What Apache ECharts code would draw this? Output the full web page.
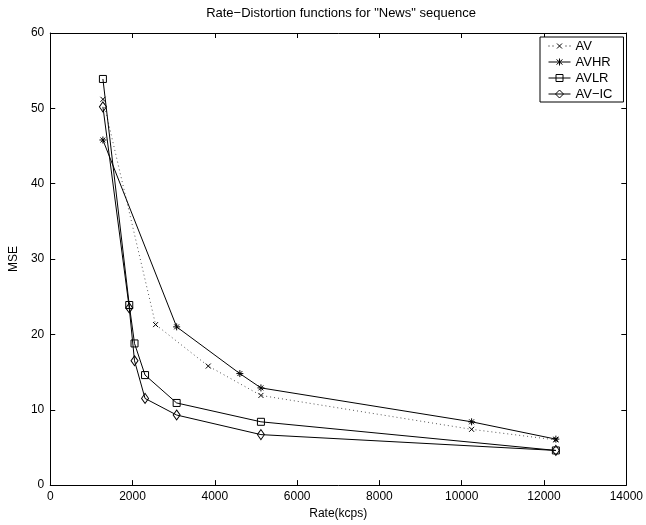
<!DOCTYPE html>
<html>
<head>
<meta charset="utf-8">
<script src="https://cdn.jsdelivr.net/npm/echarts@6/dist/echarts.min.js"></script>
<style>
  html, body { margin: 0; padding: 0; background: #fff; }
  #chart { width: 646px; height: 525px; }
</style>
</head>
<body>
<div id="chart"></div>
<script>
// rate values (kcps) and MSE
const avRate = [1280, 2560, 3840, 5120, 10240, 12288];
const avMse = [51.2, 21.3, 15.8, 11.9, 7.4, 6.0];

const avhrRate = [1280, 3072, 4608, 5120, 10240, 12288];
const avhrMse = [45.8, 21.0, 14.8, 12.9, 8.4, 6.1];

const avlrRate = [1280, 1920, 2048, 2304, 3072, 5120, 12288];
const avlrMse = [53.9, 23.9, 18.8, 14.6, 10.9, 8.4, 4.6];

const avicRate = [1280, 1920, 2048, 2304, 3072, 5120, 12288];
const avicMse = [50.2, 23.5, 16.5, 11.5, 9.3, 6.7, 4.6];

const seriesNames = ['AV', 'AVHR', 'AVLR', 'AV\u2212IC'];
const xTicks = [0, 2000, 4000, 6000, 8000, 10000, 12000, 14000];
const yTicks = [0, 10, 20, 30, 40, 50, 60];

function pairs(xs, ys) {
  return xs.map((x, i) => [x, ys[i]]);
}

const font = 'Liberation Sans, Arial, Helvetica, sans-serif';
const crossPath = 'path://M0,0L10,10M10,0L0,10';
const starPath = 'path://M5,0L5,10M0,5L10,5M1.5,1.5L8.5,8.5M8.5,1.5L1.5,8.5';

// legend icons: short line with the marker in the middle (matlab style)
const legendIcons = [
  'path://M0,2.5L1,2.5M4,2.5L5,2.5M17,2.5L18,2.5M21,2.5L22,2.5M8.5,0L13.5,5M13.5,0L8.5,5',
  'path://M0,3.5L22,3.5M11,0L11,7M8,1L14,6M14,1L8,6',
  'path://M0,3.5L22,3.5M7.5,0L14.5,0L14.5,7L7.5,7Z',
  'path://M0,4L22,4M11,0L15,4L11,8L7,4Z'
];

const markerStyle = {
  color: 'rgba(0,0,0,0)',
  borderColor: '#000',
  borderWidth: 1
};

function axisBase(ticks, pos, showLabel) {
  return {
    type: 'value',
    position: pos,
    min: ticks[0],
    max: ticks[ticks.length - 1],
    interval: ticks[1] - ticks[0],
    axisLine: { show: true, onZero: false, lineStyle: { color: '#000', width: 1 } },
    axisTick: { show: true, inside: true, length: 5, lineStyle: { color: '#000' } },
    axisLabel: {
      show: showLabel, color: '#000', fontSize: 12, fontFamily: font, margin: 6,
      formatter: v => String(v)
    },
    splitLine: { show: false }
  };
}

const chart = echarts.init(document.getElementById('chart'), null, { renderer: 'canvas' });

const xBottom = axisBase(xTicks, 'bottom', true);
xBottom.name = 'Rate(kcps)';
xBottom.nameLocation = 'middle';
xBottom.nameGap = 22;
xBottom.nameTextStyle = { color: '#000', fontSize: 12, fontFamily: font };

const yLeft = axisBase(yTicks, 'left', true);
yLeft.name = 'MSE';
yLeft.nameLocation = 'middle';
yLeft.nameGap = 18;
yLeft.nameTextStyle = { color: '#000', fontSize: 12, fontFamily: font };

chart.setOption({
  animation: false,
  backgroundColor: '#fff',
  title: {
    text: 'Rate\u2212Distortion functions for "News" sequence',
    left: 336,
    textAlign: 'center',
    top: 2,
    textStyle: { color: '#000', fontSize: 13, fontWeight: 'normal', fontFamily: font }
  },
  grid: { left: 44, right: 19, top: 33, bottom: 33, containLabel: false },
  legend: {
    orient: 'vertical',
    left: 540,
    top: 37,
    padding: [1, 11, 0, 8],
    itemWidth: 22,
    itemHeight: 8,
    itemGap: 0,
    backgroundColor: '#fff',
    borderColor: '#000',
    borderWidth: 1,
    itemStyle: { borderWidth: 1, borderColor: '#000', color: 'rgba(0,0,0,0)' },
    textStyle: { color: '#000', fontSize: 13, fontFamily: font, lineHeight: 16 },
    data: seriesNames.map((n, i) => ({ name: n, icon: legendIcons[i] }))
  },
  xAxis: [xBottom, axisBase(xTicks, 'top', false)],
  yAxis: [yLeft, axisBase(yTicks, 'right', false)],
  series: [
    {
      name: seriesNames[0],
      type: 'line',
      data: pairs(avRate, avMse),
      symbol: crossPath,
      symbolSize: 5,
      itemStyle: markerStyle,
      lineStyle: { color: '#555', width: 1, type: [1, 3] }
    },
    {
      name: seriesNames[1],
      type: 'line',
      data: pairs(avhrRate, avhrMse),
      symbol: starPath,
      symbolSize: 7,
      itemStyle: markerStyle,
      lineStyle: { color: '#000', width: 1 }
    },
    {
      name: seriesNames[2],
      type: 'line',
      data: pairs(avlrRate, avlrMse),
      symbol: 'rect',
      symbolSize: 7,
      itemStyle: markerStyle,
      lineStyle: { color: '#000', width: 1 }
    },
    {
      name: seriesNames[3],
      type: 'line',
      data: pairs(avicRate, avicMse),
      symbol: 'diamond',
      symbolSize: [7, 10],
      itemStyle: markerStyle,
      lineStyle: { color: '#000', width: 1 }
    }
  ]
});
</script>
</body>
</html>
